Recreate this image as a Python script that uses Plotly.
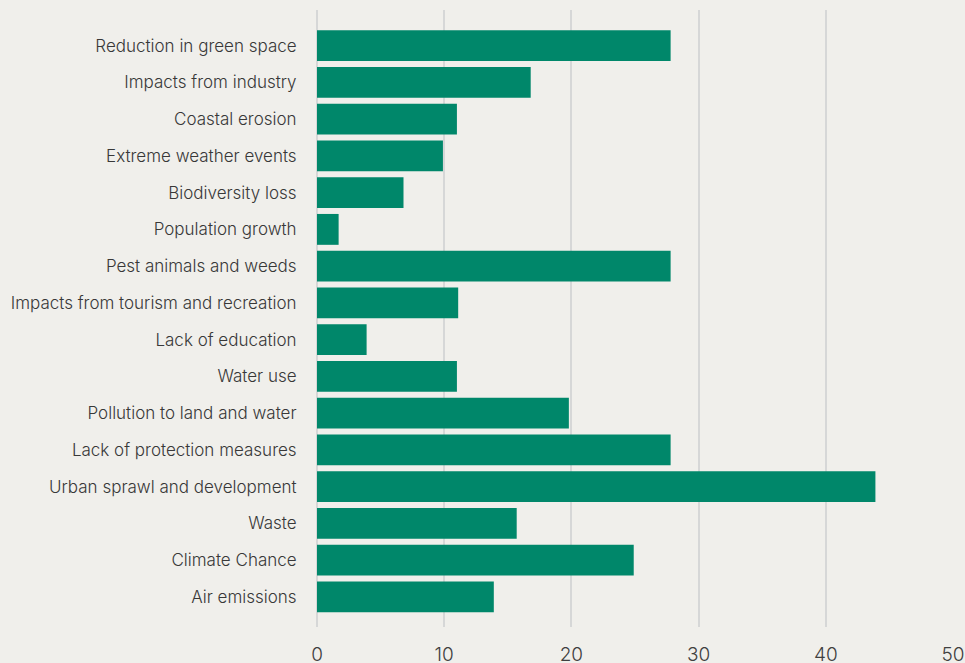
import plotly.graph_objects as go

# Issues, listed top to bottom as they appear on the chart
issues = [
    "Reduction in green space",
    "Impacts from industry",
    "Coastal erosion",
    "Extreme weather events",
    "Biodiversity loss",
    "Population growth",
    "Pest animals and weeds",
    "Impacts from tourism and recreation",
    "Lack of education",
    "Water use",
    "Pollution to land and water",
    "Lack of protection measures",
    "Urban sprawl and development",
    "Waste",
    "Climate Chance",
    "Air emissions",
]
shares = [27.8, 16.8, 11.0, 9.9, 6.8, 1.7, 27.8, 11.1, 3.9, 11.0, 19.8, 27.8, 43.9, 15.7, 24.9, 13.9]
x_ticks = [0, 10, 20, 30, 40, 50]

BG = "#f0efeb"
BAR = "#00876a"
GRID = "#d6d7d7"
TEXT = "#383838"

# Plotly draws categories bottom-up, so reverse to keep the list order top-down
cats = issues[::-1]
vals = shares[::-1]

fig = go.Figure(
    go.Bar(
        x=vals,
        y=cats,
        orientation="h",
        marker=dict(color=BAR, line=dict(width=0)),
        width=0.84,
        hoverinfo="x+y",
    )
)

fig.update_layout(
    width=965,
    height=663,
    paper_bgcolor=BG,
    plot_bgcolor=BG,
    margin=dict(l=317, r=12, t=10, b=36),
    showlegend=False,
    font=dict(family="Inter, Lato, sans-serif", color=TEXT),
    xaxis=dict(
        range=[0, 50],
        tickvals=x_ticks,
        ticktext=[str(v) for v in x_ticks],
        automargin=False,
        showgrid=True,
        gridcolor=GRID,
        gridwidth=2,
        zeroline=True,
        zerolinecolor=GRID,
        zerolinewidth=2,
        showline=False,
        ticks="outside",
        ticklen=10,
        tickcolor=BG,
        tickfont=dict(size=19, color="#404040", weight=300),
        fixedrange=True,
    ),
    yaxis=dict(
        categoryorder="array",
        categoryarray=cats,
        range=[-0.82, 15.97],
        automargin=False,
        showgrid=False,
        zeroline=False,
        showline=False,
        ticks="outside",
        ticklen=16,
        tickcolor=BG,
        tickfont=dict(size=17, color=TEXT, weight=300),
        fixedrange=True,
    ),
)

fig.write_html("out.html")
